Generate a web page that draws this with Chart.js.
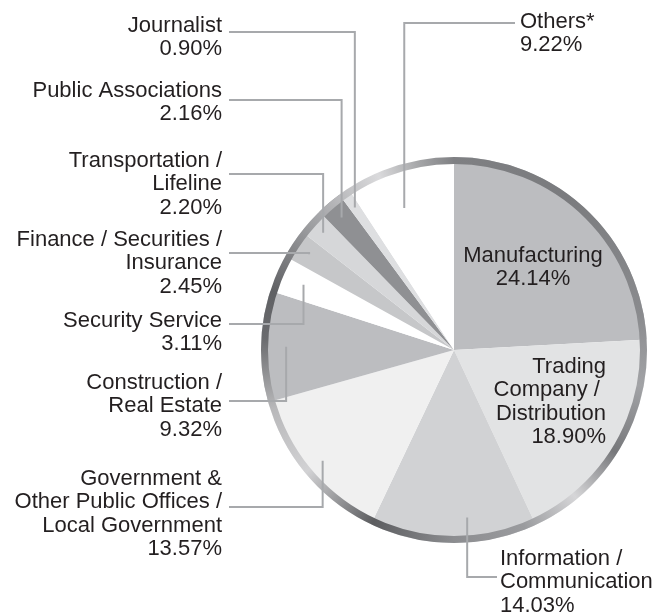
<!DOCTYPE html>
<html>
<head>
<meta charset="utf-8">
<script src="https://cdn.jsdelivr.net/npm/chart.js@4/dist/chart.umd.min.js"></script>
<style>
    html, body { margin: 0; padding: 0; background: #ffffff; }
    #industryChart { display: block; }
</style>
</head>
<body>
<canvas id="industryChart" width="658" height="613"></canvas>
<script>
// Share of members by industry (%), clockwise from 12 o'clock
const categories = [
    'Manufacturing',
    'Trading Company / Distribution',
    'Information / Communication',
    'Government & Other Public Offices / Local Government',
    'Construction / Real Estate',
    'Security Service',
    'Finance / Securities / Insurance',
    'Transportation / Lifeline',
    'Public Associations',
    'Journalist',
    'Others*'
];
const shares = [24.14, 18.90, 14.03, 13.57, 9.32, 3.11, 2.45, 2.20, 2.16, 0.90, 9.22];
const labelLines = [
    ['Manufacturing'],
    ['Trading', 'Company / ', 'Distribution'],
    ['Information /', 'Communication'],
    ['Government &', 'Other Public Offices /', 'Local Government'],
    ['Construction /', 'Real Estate'],
    ['Security Service'],
    ['Finance / Securities /', 'Insurance'],
    ['Transportation /', 'Lifeline'],
    ['Public Associations'],
    ['Journalist'],
    ['Others*']
];
const sliceColors = [
    '#bcbdc0', '#e2e3e4', '#d1d2d4', '#f0f0f0', '#bcbdc0', '#ffffff',
    '#c6c7c9', '#d6d7d9', '#8f9093', '#dedfe1', '#ffffff'
];

class IndustryPieChart {
    constructor() {
        this.font = '22px "Liberation Sans", Arial, sans-serif';
        this.lineHeight = 23.4;
        this.textColor = '#231f20';
        this.leaderColor = '#a7a9ac';
        // where each label sits; r = leader end as share of radius
        this.layout = [
            { align: 'center', x: 533, y: 262 },
            { align: 'right', x: 606, y: 373 },
            { align: 'left', x: 500, y: 565, leaderY: 577, leaderX: 497, r: 0.87, nudge: -4.7 },
            { align: 'right', x: 222, y: 485, leaderY: 507, r: 0.89 },
            { align: 'right', x: 222, y: 389, leaderY: 401, r: 0.87 },
            { align: 'right', x: 222, y: 327, leaderY: 324, r: 0.85 },
            { align: 'right', x: 222, y: 246, leaderY: 253, r: 0.9 },
            { align: 'right', x: 222, y: 167, leaderY: 174, r: 0.91 },
            { align: 'right', x: 222, y: 97, leaderY: 100, r: 0.9 },
            { align: 'right', x: 222, y: 32, leaderY: 32, r: 0.9 },
            { align: 'left', x: 520, y: 28, leaderY: 23, leaderX: 515, r: 0.78, nudge: -2.7 }
        ];
        this.createChart();
    }

    ringGradient(ctx, x, y) {
        const g = ctx.createConicGradient(-Math.PI / 2, x, y);
        const stops = [
            [0.00, '#7f8083'], [0.10, '#7a7b7e'], [0.22, '#8a8b8e'], [0.28, '#a2a3a6'],
            [0.34, '#77787b'], [0.39, '#d6d6d8'], [0.44, '#9a9b9e'], [0.50, '#8c8d90'],
            [0.57, '#5c5d60'], [0.64, '#d2d2d4'], [0.70, '#b8b8ba'], [0.76, '#6a6b6e'],
            [0.80, '#606164'], [0.86, '#9a9b9e'], [0.935, '#dadadc'], [0.97, '#a5a6a8'],
            [1.00, '#7f8083']
        ];
        stops.forEach(([o, c]) => g.addColorStop(o, c));
        return g;
    }

    drawRing(chart) {
        const arc = chart.getDatasetMeta(0).data[0];
        if (!arc) return;
        const { x, y, outerRadius } = arc.getProps(['x', 'y', 'outerRadius'], true);
        const ctx = chart.ctx;
        ctx.save();
        ctx.beginPath();
        ctx.arc(x, y, outerRadius - 3.5, 0, Math.PI * 2);
        ctx.lineWidth = 7;
        ctx.strokeStyle = this.ringGradient(ctx, x, y);
        ctx.stroke();
        ctx.restore();
    }

    drawLabels(chart) {
        const ctx = chart.ctx;
        const meta = chart.getDatasetMeta(0);
        ctx.save();
        ctx.font = this.font;
        ctx.textBaseline = 'alphabetic';

        meta.data.forEach((arc, i) => {
            const spot = this.layout[i];
            const p = arc.getProps(['x', 'y', 'startAngle', 'endAngle', 'outerRadius'], true);

            if (spot.r) {
                const mid = (p.startAngle + p.endAngle) / 2 + (spot.nudge || 0) * Math.PI / 180;
                const ex = p.x + Math.cos(mid) * p.outerRadius * spot.r;
                const ey = p.y + Math.sin(mid) * p.outerRadius * spot.r;
                const sx = spot.leaderX !== undefined ? spot.leaderX : spot.x + 7;
                ctx.beginPath();
                ctx.moveTo(sx, spot.leaderY);
                ctx.lineTo(ex, spot.leaderY);
                ctx.lineTo(ex, ey);
                ctx.strokeStyle = this.leaderColor;
                ctx.lineWidth = 2;
                ctx.stroke();
            }

            const lines = labelLines[i].concat([shares[i].toFixed(2) + '%']);
            ctx.fillStyle = this.textColor;
            ctx.textAlign = spot.align;
            lines.forEach((line, k) => {
                ctx.fillText(line, spot.x, spot.y + k * this.lineHeight);
            });
        });
        ctx.restore();
    }

    createChart() {
        const self = this;
        const ctx = document.getElementById('industryChart').getContext('2d');
        new Chart(ctx, {
            type: 'pie',
            data: {
                labels: categories,
                datasets: [{
                    data: shares,
                    backgroundColor: sliceColors,
                    borderWidth: 0
                }]
            },
            options: {
                responsive: false,
                animation: false,
                events: [],
                layout: {
                    padding: { left: 261, right: 11, top: 157, bottom: 70 }
                },
                plugins: {
                    legend: { display: false },
                    tooltip: { enabled: false }
                }
            },
            plugins: [{
                id: 'ringAndLabels',
                afterDatasetsDraw(chart) {
                    self.drawRing(chart);
                    self.drawLabels(chart);
                }
            }]
        });
    }
}

window.addEventListener('load', () => {
    new IndustryPieChart();
});
</script>
</body>
</html>
